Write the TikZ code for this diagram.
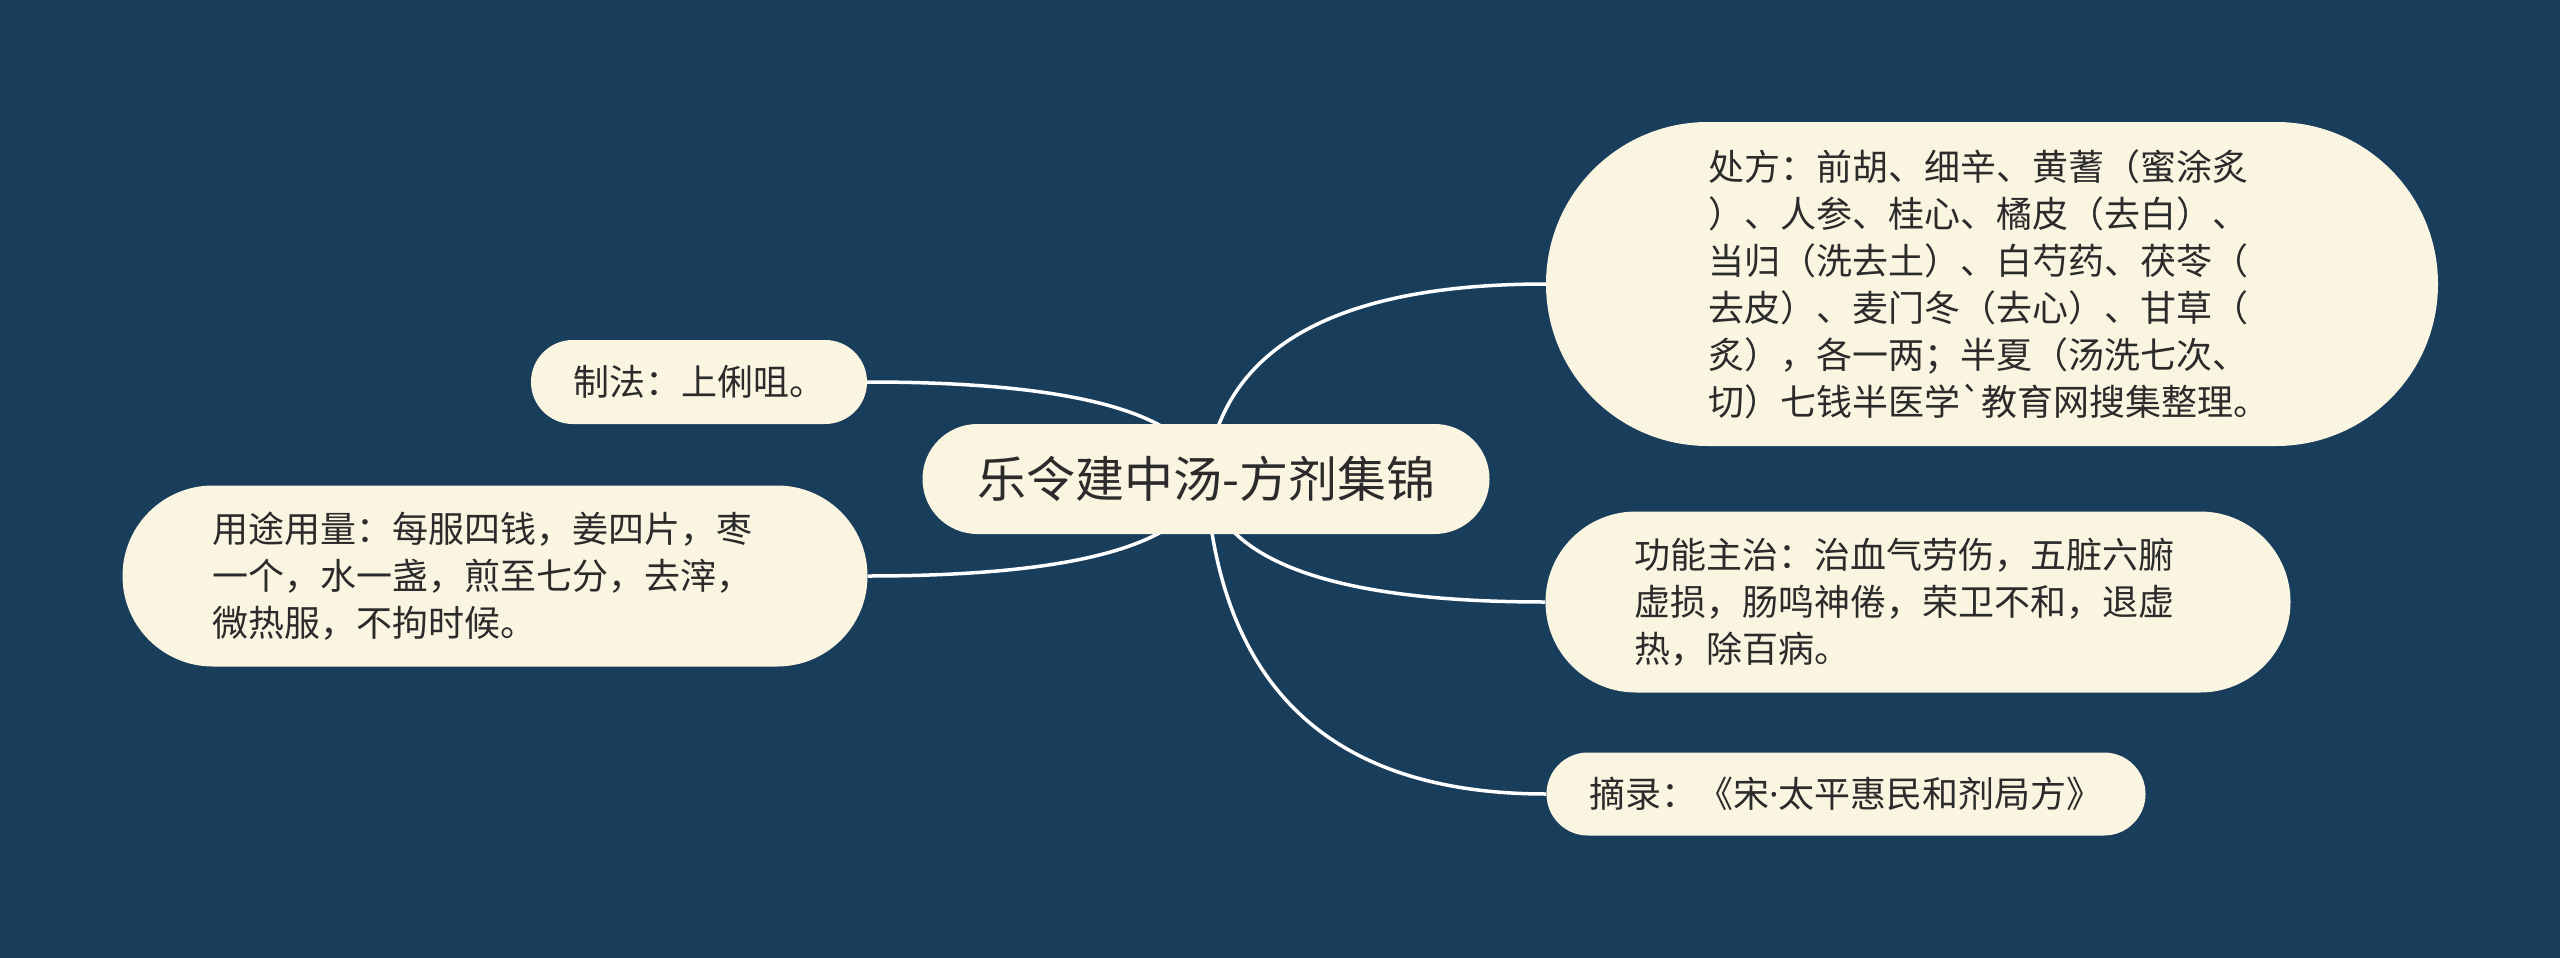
\documentclass[tikz,border=0pt]{standalone}
\usepackage{fontspec}
\newfontfamily\cjk{Noto Sans CJK SC}[Ligatures=TeXOff]
\newfontfamily\latn{Noto Sans}
\usetikzlibrary{calc}
\definecolor{bgc}{HTML}{193E5C}
\definecolor{cream}{HTML}{FAF5E1}
\definecolor{ink}{HTML}{2B2B2B}
\pgfdeclarelayer{bg}
\pgfdeclarelayer{lines}
\pgfsetlayers{bg,lines,main}
\begin{document}
\begin{tikzpicture}[x=1pt,y=-1pt,
  box/.style={fill=cream,text=ink,font=\cjk\fontsize{36pt}{47pt}\selectfont,align=left,inner sep=0pt},
  txt/.style={text=ink,font=\cjk\fontsize{36pt}{47pt}\selectfont,align=left,inner sep=0pt},
  link/.style={draw=white,line width=3.5pt}]
\useasboundingbox (0,0) rectangle (2560,958);
\begin{pgfonlayer}{bg}
\fill[bgc] (0,0) rectangle (2560,958);
\end{pgfonlayer}

\node[box,minimum width=567pt,minimum height=110pt,rounded corners=54.9pt,font=\cjk\fontsize{49pt}{58pt}\selectfont] (root) at (1206,479) {乐令建中汤-方剂集锦};

\node[box,minimum width=892pt,minimum height=324pt,rounded corners=161.9pt] (cf) at (1992,284) {};
\node[txt] (cft) at (1989,284) {处方：前胡、细辛、黄蓍（蜜涂炙\\）、人参、桂心、橘皮（去白）、\\当归（洗去土）、白芍药、茯苓（\\去皮）、麦门冬（去心）、甘草（\\炙），各一两；半夏（汤洗七次、\\切）七钱半医学`教育网搜集整理。};

\node[box,minimum width=745pt,minimum height=181pt,rounded corners=90.4pt] (gn) at (1918,602) {};
\node[txt] (gnt) at (1904,602) {功能主治：治血气劳伤，五脏六腑\\虚损，肠鸣神倦，荣卫不和，退虚\\热，除百病。};

\node[box,minimum width=599pt,minimum height=83pt,rounded corners=41.4pt] (zl) at (1846,794) {摘录：《宋{\latn ·}太平惠民和剂局方》};

\node[box,minimum width=336pt,minimum height=84pt,rounded corners=41.9pt] (zf) at (699,382) {制法：上俐咀。};

\node[box,minimum width=745pt,minimum height=181pt,rounded corners=90.4pt] (yt) at (495,576) {};
\node[txt] (ytt) at (482,576) {用途用量：每服四钱，姜四片，枣\\一个，水一盏，煎至七分，去滓，\\微热服，不拘时候。};

\coordinate (k1) at ($(root.center |- cf.west)+(20,0)$);
\coordinate (k2) at ($(root.center |- gn.west)+(20,0)$);
\coordinate (k3) at ($(root.center |- zl.west)+(20,0)$);
\coordinate (k4) at ($(root.center |- zf.east)+(-20,0)$);
\coordinate (k5) at ($(root.center |- yt.east)+(-20,0)$);

\begin{pgfonlayer}{lines}
\draw[link] (root.center) .. controls ($(root.center)!0.6667!(k1)$) and ($(cf.west)!0.6667!(k1)$) .. (cf.west);
\draw[link] (root.center) .. controls ($(root.center)!0.6667!(k2)$) and ($(gn.west)!0.6667!(k2)$) .. (gn.west);
\draw[link] (root.center) .. controls ($(root.center)!0.6667!(k3)$) and ($(zl.west)!0.6667!(k3)$) .. (zl.west);
\draw[link] (root.center) .. controls ($(root.center)!0.6667!(k4)$) and ($(zf.east)!0.6667!(k4)$) .. (zf.east);
\draw[link] (root.center) .. controls ($(root.center)!0.6667!(k5)$) and ($(yt.east)!0.6667!(k5)$) .. (yt.east);
\end{pgfonlayer}
\end{tikzpicture}
\end{document}
